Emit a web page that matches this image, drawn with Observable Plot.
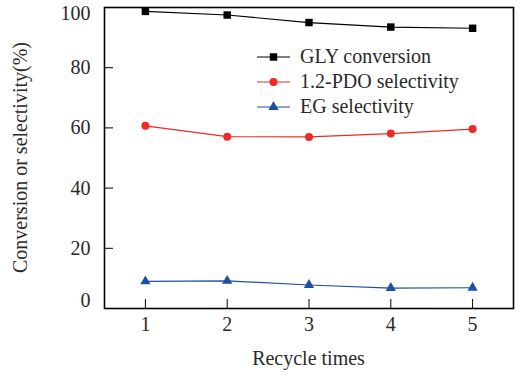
<!DOCTYPE html>
<html>
<head>
<meta charset="utf-8">
<script src="https://cdn.jsdelivr.net/npm/d3@7"></script>
<script src="https://cdn.jsdelivr.net/npm/@observablehq/plot@0.6"></script>
<style>
  #wrap { position: relative; width: 520px; height: 376px; font-family: 'Liberation Serif', serif; color: #2a2a2a; }
  .ttl { position: absolute; font-family: 'Liberation Serif', serif; font-size: 20px; line-height: 23px; text-align: center; white-space: nowrap; color: #2a2a2a; }
  #xtitle { left: 104px; width: 409px; top: 347px; }
  #ytitle { left: -130.5px; width: 301px; top: 146px; transform: rotate(-90deg); }
  .legend { position: absolute; left: 256px; top: 44px; color: #2a2a2a; font-size: 20px; line-height: 25px; font-family: 'Liberation Serif', serif; }
  .legend .row { display: flex; align-items: center; height: 25px; white-space: nowrap; }
  .legend svg { margin-right: 9px; }
</style>
</head>
<body style="margin:0;background:#fff">
<div id="wrap">
  <div id="xtitle" class="ttl">Recycle times</div>
  <div id="ytitle" class="ttl">Conversion or selectivity(%)</div>
</div>
<script>
const recycle = [1, 2, 3, 4, 5];
const glyConversion = [98.7, 97.5, 95.0, 93.5, 93.1];
const pdoSelectivity = [60.7, 57.1, 57.0, 58.1, 59.6];
const egSelectivity = [9.0, 9.2, 7.8, 6.8, 6.9];
const seriesNames = ["GLY conversion", "1.2-PDO selectivity", "EG selectivity"];
const seriesColors = ["#000000", "#ee2a24", "#1f4fa3"];
const seriesSymbols = ["square", "circle", "triangle"];
const seriesR = [4.2, 4, 3.8];
const xTicks = [1, 2, 3, 4, 5];
const yTicksInner = [20, 40, 60, 80];
const yTickTop = [100];
const yTickBottom = [0];

const FONT = "Liberation Serif";
const allValues = [glyConversion, pdoSelectivity, egSelectivity];
const data = [];
seriesNames.forEach((s, i) => recycle.forEach((x, j) => data.push({series: s, x, y: allValues[i][j]})));

const marks = [];
seriesNames.forEach((s, i) => {
  const d = data.filter(e => e.series === s);
  marks.push(Plot.line(d, {x: "x", y: "y", stroke: seriesColors[i], strokeWidth: 1.2}));
  marks.push(Plot.dot(d, {x: "x", y: "y", fill: seriesColors[i], stroke: "none", symbol: () => seriesSymbols[i], r: seriesR[i]}));
});

const fmt = d3.format("d");
const chart = Plot.plot({
  width: 520,
  height: 376,
  marginTop: 7,
  marginBottom: 68,
  marginLeft: 104,
  marginRight: 7,
  style: {fontFamily: FONT, fontSize: "20px", color: "#2a2a2a", background: "#fff"},
  x: {domain: [0.5, 5.5]},
  y: {domain: [0, 100]},
  symbol: {type: "identity"},
  marks: [
    Plot.axisX(xTicks, {tickSize: -9, tickPadding: 17, stroke: "#000", fontFamily: FONT, label: null, tickFormat: fmt}),
    Plot.axisY(yTicksInner, {tickSize: -9, tickPadding: 23, stroke: "#000", fontFamily: FONT, label: null, tickFormat: fmt}),
    Plot.axisY(yTickTop, {tickSize: 0, tickPadding: 14, fontFamily: FONT, label: null, dy: 6, tickFormat: fmt}),
    Plot.axisY(yTickBottom, {tickSize: 0, tickPadding: 14, fontFamily: FONT, label: null, dy: -8, tickFormat: fmt}),
    ...marks,
    Plot.frame({stroke: "#000", strokeWidth: 1.6})
  ]
});
const wrap = document.getElementById("wrap");
wrap.prepend(chart);

const legend = d3.select(wrap).append("div").attr("class", "legend");
seriesNames.forEach((s, i) => {
  const row = legend.append("div").attr("class", "row");
  const svg = row.append("svg").attr("width", 35).attr("height", 14);
  svg.append("line").attr("x1", 1).attr("x2", 34).attr("y1", 7).attr("y2", 7).attr("stroke", seriesColors[i]).attr("stroke-width", 1.2);
  const sym = {square: d3.symbolSquare, circle: d3.symbolCircle, triangle: d3.symbolTriangle}[seriesSymbols[i]];
  svg.append("path").attr("transform", "translate(17.5,7)").attr("d", d3.symbol(sym, Math.PI * seriesR[i] * seriesR[i])()).attr("fill", seriesColors[i]);
  row.append("span").text(s);
});
</script>
</body>
</html>
